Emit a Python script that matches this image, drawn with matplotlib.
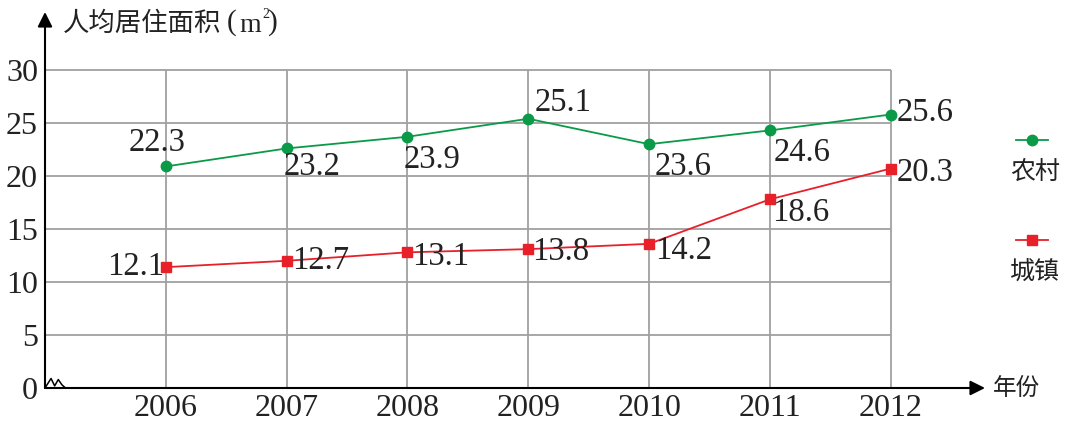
import matplotlib
matplotlib.use("Agg")
import matplotlib.pyplot as plt

# data (marker heights) and the printed labels
years = [2006, 2007, 2008, 2009, 2010, 2011, 2012]
rural = [20.9, 22.6, 23.7, 25.4, 23.0, 24.3, 25.8]
urban = [11.4, 12.0, 12.8, 13.1, 13.6, 17.8, 20.7]
rural_labels = ["22.3", "23.2", "23.9", "25.1", "23.6", "24.6", "25.6"]
urban_labels = ["12.1", "12.7", "13.1", "13.8", "14.2", "18.6", "20.3"]
yticks = [0, 5, 10, 15, 20, 25, 30]

GREEN = "#0a9a48"
RED = "#e8202a"
GRID = "#a0a0a0"
TXT = "#222222"
NUM_FONT = "Liberation Serif"
CJK_FONT = ["Noto Sans CJK SC", "DejaVu Sans"]

W, H = 1066, 423
fig = plt.figure(figsize=(W / 100, H / 100), dpi=100)


def px(x, y):
    return x / W, 1 - y / H


# axes spans from the y axis (x=45) to the arrow tip (x=985), 0 at y=388 up to y=12
ax = fig.add_axes([45 / W, 1 - 388 / H, (985 - 45) / W, (388 - 12) / H])
ax.set_xlim(2005, 2012.78)
ax.set_ylim(0, 35.47)
for s in ax.spines.values():
    s.set_visible(False)

# grid
ax.hlines(yticks[1:], 2005, 2012, color=GRID, lw=1.3, zorder=1)
ax.vlines(years, 0, 30, color=GRID, lw=1.3, zorder=1)

# axes with arrows
ax.annotate("", xy=(2012.78, 0), xytext=(2005, 0),
            arrowprops=dict(arrowstyle="-|>", color="black", lw=1.5,
                            mutation_scale=22, shrinkA=0, shrinkB=0),
            annotation_clip=False, zorder=3)
ax.annotate("", xy=(2005, 35.47), xytext=(2005, 0),
            arrowprops=dict(arrowstyle="-|>", color="black", lw=1.5,
                            mutation_scale=22, shrinkA=0, shrinkB=0),
            annotation_clip=False, zorder=3)

# little break mark at the origin
bx = [2005.0, 2005.05, 2005.08, 2005.11, 2005.14, 2005.17]
by = [0, 0.9, 0.2, 0.8, 0.3, 0]
ax.plot(bx, by, color="black", lw=1.1, zorder=4, clip_on=False)

# ticks
ax.set_xticks(years)
ax.set_xticklabels([str(y) for y in years], fontsize=23, family=NUM_FONT)
ax.set_yticks(yticks)
ax.set_yticklabels([str(v) for v in yticks], fontsize=23, family=NUM_FONT)
ax.tick_params(length=0, colors=TXT)
ax.tick_params(axis="x", pad=4)
ax.tick_params(axis="y", pad=5)

# series
ax.plot(years, rural, color=GREEN, lw=1.3, marker="o", ms=7.5,
        markerfacecolor=GREEN, markeredgecolor=GREEN, zorder=5, clip_on=False)
ax.plot(years, urban, color=RED, lw=1.3, marker="s", ms=7.5,
        markerfacecolor=RED, markeredgecolor=RED, zorder=5, clip_on=False)

# value labels (offsets in points from each marker)
rural_off = [(-6.5, 17), (18, -13), (18, -16.5), (25, 11.5), (24.5, -16), (23, -16), (24.5, 1.5)]
urban_off = [(-22, 0), (24.5, 0), (24, -3), (23, -2), (24.5, -5), (22, -9.5), (25, -3)]
for x, y, t, o in zip(years, rural, rural_labels, rural_off):
    ax.annotate(t, (x, y), xytext=o, textcoords="offset points", ha="center",
                va="center", fontsize=23.5, family=NUM_FONT, color=TXT, zorder=6)
for x, y, t, o in zip(years, urban, urban_labels, urban_off):
    ax.annotate(t, (x, y), xytext=o, textcoords="offset points", ha="center",
                va="center", fontsize=23.5, family=NUM_FONT, color=TXT, zorder=6)

# axis titles
fig.text(*px(63, 23), "人均居住面积", fontsize=19, family=CJK_FONT,
         ha="left", va="center", color=TXT)
fig.text(*px(227, 23), "(", fontsize=21, family=NUM_FONT,
         ha="left", va="center", color=TXT)
fig.text(*px(239, 26), "m", fontsize=20, family=NUM_FONT,
         ha="left", va="center", color=TXT)
fig.text(*px(262, 15), "2", fontsize=10, family=NUM_FONT,
         ha="left", va="center", color=TXT)
fig.text(*px(268, 23), ")", fontsize=21, family=NUM_FONT,
         ha="left", va="center", color=TXT)
fig.text(*px(993, 388), "年份", fontsize=17, family=CJK_FONT, ha="left",
         va="center", color=TXT)

# hand-drawn legend on the right
for yy, col, mk, name in [(140, GREEN, "o", "农村"), (240, RED, "s", "城镇")]:
    x0, y0 = px(1016, yy)
    x1, _ = px(1048, yy)
    fig.add_artist(plt.Line2D([x0, x1], [y0, y0], color=col, lw=1.3,
                              transform=fig.transFigure))
    fig.add_artist(plt.Line2D([(x0 + x1) / 2], [y0], color=col, marker=mk,
                              ms=7.5, transform=fig.transFigure))
    fig.text(*px(1035, yy + 32), name, fontsize=18, family=CJK_FONT,
             ha="center", va="center", color=TXT)

fig.savefig("out.png", dpi=100)
